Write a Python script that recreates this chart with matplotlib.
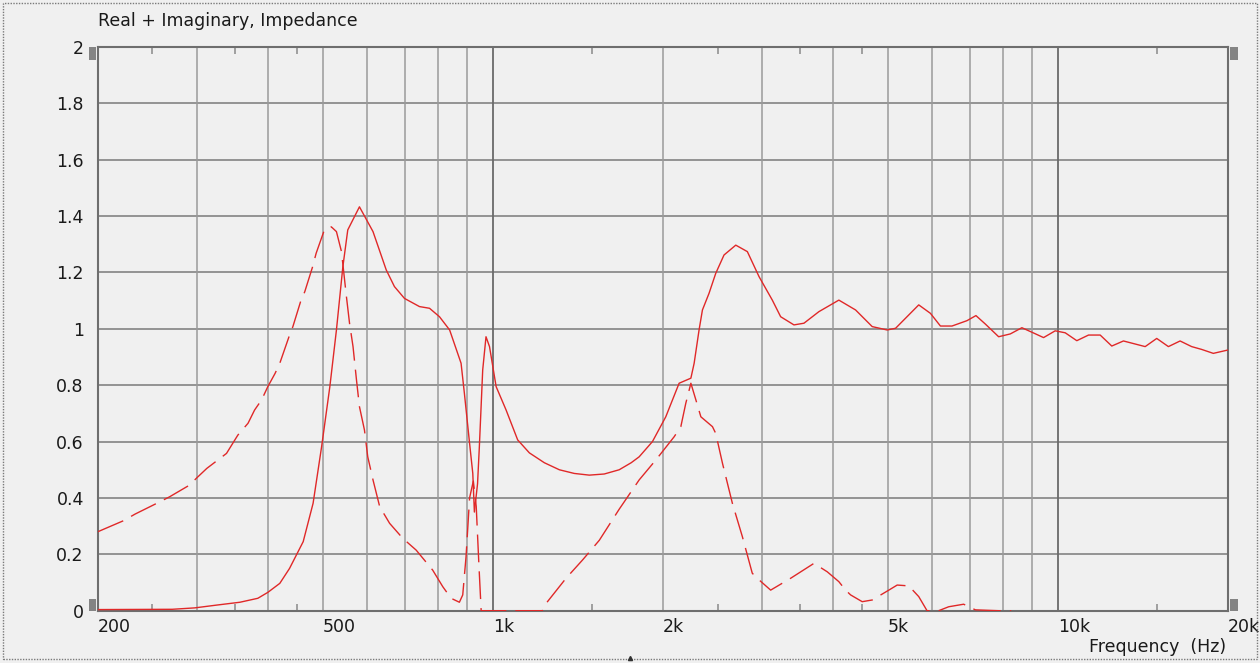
import matplotlib
matplotlib.use("Agg")
import matplotlib.pyplot as plt
from matplotlib.patches import Rectangle
from matplotlib.lines import Line2D

# ---------------- data ----------------
real_freq = [200, 271, 297, 325, 357, 384, 400, 420, 437, 462, 481, 498, 515, 529, 543, 554,
             581, 614, 648, 670, 698, 742, 773, 805, 839, 879, 891, 910, 922, 928, 940, 947,
             960, 973, 987, 1014, 1056, 1107, 1161, 1234, 1312, 1394, 1482, 1575, 1674, 1758,
             1816, 1917, 2024, 2137, 2242, 2272, 2318, 2350, 2414, 2481, 2566, 2692, 2822,
             2960, 3124, 3232, 3412, 3554, 3777, 4097, 4386, 4693, 4988, 5162, 5673, 5950,
             6197, 6496, 6904, 7162, 7442, 7856, 8238, 8636, 8996, 9434, 9892, 10304, 10802,
             11330, 11882, 12456, 13062, 14272, 14960, 15688, 16454, 17248, 17966, 18838, 20000]
real_vals = [0.004, 0.005, 0.01, 0.02, 0.03, 0.044, 0.065, 0.097, 0.15, 0.245, 0.381, 0.582,
             0.795, 0.996, 1.22, 1.351, 1.433, 1.345, 1.209, 1.15, 1.108, 1.079, 1.073, 1.043,
             0.996, 0.878, 0.771, 0.594, 0.487, 0.35, 0.45, 0.582, 0.854, 0.972, 0.937, 0.795,
             0.712, 0.606, 0.56, 0.525, 0.5, 0.487, 0.481, 0.485, 0.5, 0.525, 0.546, 0.6, 0.688,
             0.807, 0.825, 0.878, 0.996, 1.067, 1.126, 1.197, 1.262, 1.297, 1.274, 1.185, 1.102,
             1.043, 1.014, 1.02, 1.061, 1.102, 1.067, 1.008, 0.996, 1.002, 1.085, 1.055, 1.01,
             1.01, 1.029, 1.047, 1.017, 0.972, 0.982, 1.004, 0.988, 0.969, 0.993, 0.986, 0.958,
             0.978, 0.978, 0.939, 0.957, 0.937, 0.966, 0.937, 0.957, 0.937, 0.927, 0.913, 0.925]

imag_freq = [200, 222, 233, 258, 268, 291, 299, 312, 338, 354, 369, 379, 390, 400, 412, 420,
             436, 443, 457, 465, 480, 487, 504, 518, 529, 540, 551, 558, 566, 574, 581, 593,
             601, 614, 631, 657, 693, 732, 783, 816, 844, 873, 885, 897, 910, 924, 935, 945,
             954, 1224, 1243, 1348, 1442, 1544, 1674, 1816, 1944, 2094, 2152, 2196, 2242, 2288,
             2335, 2448, 2481, 2550, 2655, 2765, 2879, 2938, 3103, 3366, 3702, 3908, 4097, 4211,
             4298, 4506, 4693, 5022, 5196, 5448, 5673, 5868, 6152, 6410, 6812, 7146, 7856, 8238,
             8900, 10000, 20000]
imag_vals = [0.28, 0.319, 0.343, 0.387, 0.404, 0.446, 0.47, 0.505, 0.558, 0.623, 0.665, 0.712,
             0.748, 0.795, 0.842, 0.878, 0.972, 1.008, 1.096, 1.132, 1.22, 1.268, 1.353, 1.362,
             1.345, 1.274, 1.114, 1.02, 0.937, 0.819, 0.724, 0.641, 0.546, 0.464, 0.369, 0.31,
             0.257, 0.215, 0.144, 0.085, 0.044, 0.03, 0.056, 0.192, 0.40, 0.46, 0.37, 0.168,
             0.0, 0.0, 0.026, 0.115, 0.18, 0.25, 0.36, 0.464, 0.535, 0.617, 0.653, 0.736, 0.807,
             0.748, 0.688, 0.653, 0.629, 0.523, 0.381, 0.263, 0.133, 0.115, 0.073, 0.115, 0.168,
             0.138, 0.103, 0.073, 0.056, 0.032, 0.038, 0.073, 0.091, 0.088, 0.05, 0.0, 0.0,
             0.014, 0.023, 0.003, 0.0, 0.0, -0.05, -0.1, -0.1]

xtick_vals = [200, 500, 1000, 2000, 5000, 10000, 20000]
xtick_labels = ["200", "500", "1k", "2k", "5k", "10k", "20k"]
xminor_ticks = [250, 350, 450, 1500, 2500, 3500, 4500, 15000]
vgrid_light = [300, 400, 500, 600, 700, 800, 900, 2000, 3000, 4000, 5000, 6000, 7000, 8000, 9000]
vgrid_dark = [1000, 10000]
ytick_vals = [0, 0.2, 0.4, 0.6, 0.8, 1.0, 1.2, 1.4, 1.6, 1.8, 2.0]
ytick_labels = ["0", "0.2", "0.4", "0.6", "0.8", "1", "1.2", "1.4", "1.6", "1.8", "2"]

# ---------------- style ----------------
BG = "#f0f0f0"
RED = "#e02828"
TXT = "#1a1a1a"
FS = 12.5
plt.rcParams["font.family"] = ["DejaVu Sans"]
plt.rcParams["lines.scale_dashes"] = False

W, H = 1260, 663
fig = plt.figure(figsize=(W / 100, H / 100), dpi=100, facecolor=BG)
L, R, T, B = 97.7, 1228.0, 47.0, 610.7
ax = fig.add_axes([L / W, 1 - B / H, (R - L) / W, (B - T) / H])
ax.set_facecolor(BG)
ax.set_xscale("log")
ax.set_xlim(200, 20000)
ax.set_ylim(0, 2)

# grid
for y in ytick_vals[1:-1]:
    ax.axhline(y, color="#7a7a7a", lw=1.1, zorder=1)
for f in vgrid_light:
    ax.axvline(f, color="#9a9a9a", lw=1.1, zorder=1)
for f in vgrid_dark:
    ax.axvline(f, color="#6a6a6a", lw=1.3, zorder=1)

# curves
ax.plot(real_freq, real_vals, color=RED, lw=1.0, zorder=3)
ax.plot(imag_freq, imag_vals, color=RED, lw=1.0, dashes=(20, 6.5), zorder=3)

# ticks
ax.set_xticks(xtick_vals)
ax.set_xticklabels(xtick_labels)
ax.set_xticks(xminor_ticks, minor=True)
ax.set_xticklabels([], minor=True)
ax.tick_params(axis="x", which="major", length=0, pad=5, labelsize=FS, labelcolor=TXT)
ax.tick_params(axis="x", which="minor", length=5, width=1.1, direction="in",
               top=True, bottom=True, color="#8a8a8a")
for lab in ax.get_xticklabels():
    lab.set_horizontalalignment("left")
ax.set_yticks(ytick_vals)
ax.set_yticklabels(ytick_labels)
ax.tick_params(axis="y", length=0, pad=10, labelsize=FS, labelcolor=TXT)

for s in ax.spines.values():
    s.set_color("#6e6e6e")
    s.set_linewidth(1.5)

# title and axis label
fig.text(L / W, 1 - 21 / H, "Real + Imaginary, Impedance", ha="left", va="center",
         fontsize=FS, color=TXT)
fig.text(1226 / W, 1 - 647 / H, "Frequency  (Hz)", ha="right", va="center",
         fontsize=FS, color=TXT)

# scroll handles
for (x0, y0) in [(88.5, 47), (88.5, 598.5), (1230, 47), (1230, 598.5)]:
    fig.add_artist(Rectangle((x0 / W, 1 - (y0 + 12.5) / H), 7.5 / W, 12.5 / H,
                             transform=fig.transFigure, facecolor="#848484",
                             edgecolor="none"))

# dotted outer border
fig.add_artist(Rectangle((3 / W, 1 - 659 / H), 1254 / W, 656 / H, transform=fig.transFigure,
                         facecolor="none", edgecolor="#7a7a7a", lw=1.0,
                         linestyle=(0, (1, 1))))
fig.add_artist(Line2D([630 / W], [1 - 658 / H], transform=fig.transFigure, marker="^",
                      markersize=3, color="#333333", linestyle="none"))

fig.savefig("out.png", dpi=100, facecolor=BG)
